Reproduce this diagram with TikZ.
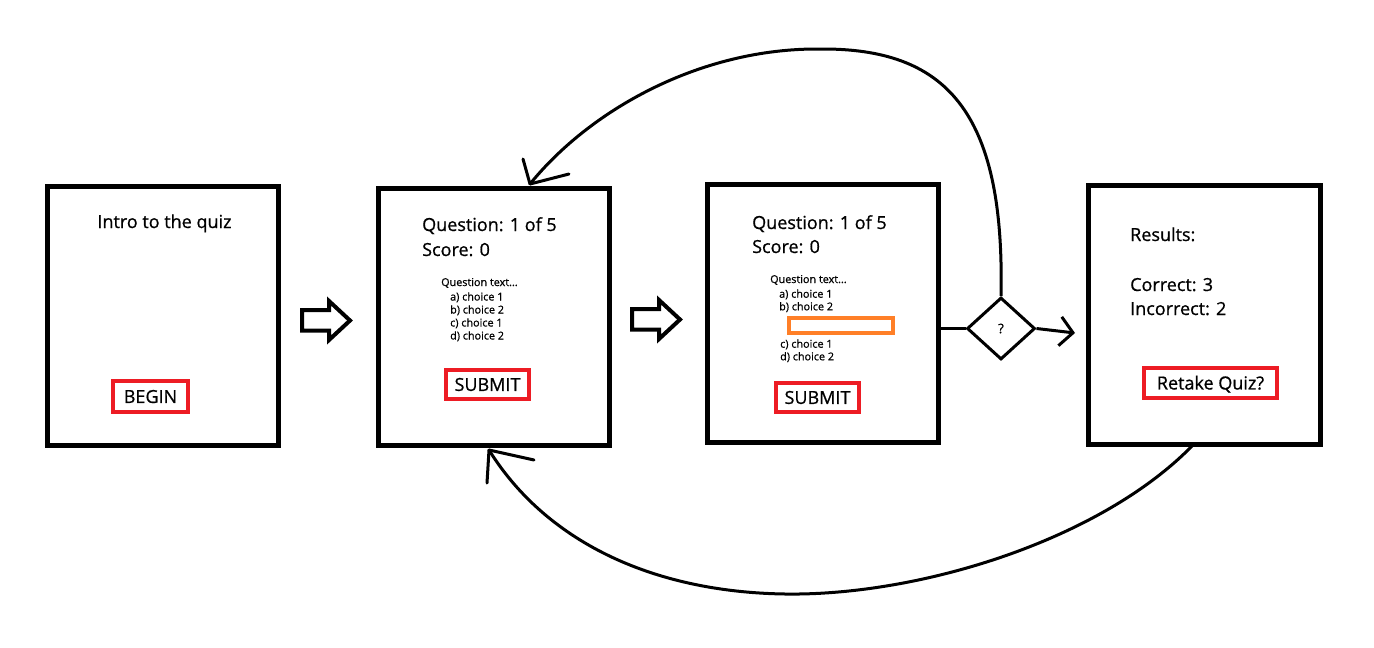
\documentclass[tikz,border=0pt]{standalone}
\usepackage{fontspec}
\setmainfont{Open Sans}[UprightFeatures={FakeBold=0.8}]
\usetikzlibrary{shapes.geometric,arrows.meta,calc}
\definecolor{paintred}{HTML}{ED1C24}
\definecolor{paintorange}{HTML}{FF7F27}
\tikzset{
  screen/.style={draw=black,line width=5pt,minimum width=#1,inner sep=0pt},
  redbtn/.style={draw=paintred,line width=4.5pt,inner sep=0pt,font=\fontsize{18}{20}\selectfont,text height=12.9pt,text depth=0pt},
  bigtxt/.style={anchor=base west,inner sep=0pt,font=\fontsize{18}{20}\selectfont},
  smalltxt/.style={anchor=base west,inner sep=0pt,font=\fontsize{10.8}{12}\selectfont},
  fatarrow/.style={draw=black,line width=4pt,line join=miter},
  curve/.style={draw=black,line width=3pt},
  barb/.style={draw=black,line width=3pt,line cap=round},
  decision/.style={draw=black,diamond,line width=3pt,inner sep=0pt,minimum width=68pt,minimum height=62pt,font=\fontsize{13}{15}\selectfont},
}
\begin{document}
\begin{tikzpicture}[x=1pt,y=-1pt]
\useasboundingbox (0,0) rectangle (1374,648);
% screens
\node[screen=231pt,minimum height=259pt] (b1) at (162.5,315.5) {};
\node[screen=231pt,minimum height=257pt] (b2) at (493.5,316.5) {};
\node[screen=231pt,minimum height=258pt] (b3) at (822.5,313) {};
\node[screen=232pt,minimum height=259pt] (b4) at (1204,314.5) {};
% screen 1
\node[anchor=base,inner sep=0pt,font=\fontsize{18}{20}\selectfont] (intro) at (164.5,228) {Intro to the quiz};
\node[redbtn,minimum width=75pt,minimum height=31pt] (begin) at (150.5,396.5) {BEGIN};
% screen 2
\node[bigtxt] (q2) at (422,231) {Question: 1 of 5};
\node[bigtxt] (s2) at (422,256) {Score: 0};
\node[smalltxt] (qt2) at (441,286) {Question text...};
\node[smalltxt] (a2) at (450,300.5) {a) choice 1};
\node[smalltxt] (bb2) at (450,313.5) {b) choice 2};
\node[smalltxt] (c2) at (450,326.5) {c) choice 1};
\node[smalltxt] (d2) at (450,339.5) {d) choice 2};
\node[redbtn,minimum width=83pt,minimum height=29pt] (sub2) at (487.5,384.5) {SUBMIT};
% screen 3
\node[bigtxt] (q3) at (752,229) {Question: 1 of 5};
\node[bigtxt] (s3) at (752,253) {Score: 0};
\node[smalltxt] (qt3) at (770,283) {Question text...};
\node[smalltxt] (a3) at (779,297.7) {a) choice 1};
\node[smalltxt] (bb3) at (779,310.3) {b) choice 2};
\node[draw=paintorange,line width=3.5pt,minimum width=104pt,minimum height=15pt,inner sep=0pt] (blank) at (841,325.5) {};
\node[smalltxt] (c3) at (780,347.7) {c) choice 1};
\node[smalltxt] (d3) at (780,360.3) {d) choice 2};
\node[redbtn,minimum width=83pt,minimum height=29pt] (sub3) at (817.5,397.5) {SUBMIT};
% screen 4
\node[bigtxt] (res) at (1130,241) {Results:};
\node[bigtxt] (cor) at (1130,291) {Correct: 3};
\node[bigtxt] (inc) at (1130,315) {Incorrect: 2};
\node[redbtn,minimum width=133pt,minimum height=30pt] (retake) at (1210.5,383) {Retake Quiz?};
% fat arrows
\foreach \dx/\dy in {0/0,330/-1}{
  \draw[fatarrow,shift={(\dx,\dy)}] (302,310) -- (329,310) -- (329,301) -- (350,320.5) -- (329,340) -- (329,330.5) -- (302,330.5) -- cycle;
}
% decision
\node[decision] (dec) at (1001,328.5) {?};
\draw[curve] (dec.west) -- (dec.west -| b3.east);
\coordinate (resin) at (1075,333);
\draw[curve,-{Straight Barb[length=13pt,width=29pt]}] (dec.east) -- (resin);
% loop back from decision to screen 2
\coordinate (topin) at (530,184);
\draw[curve] (dec.north) .. controls (1005,110) and (945,48) .. (820,49)
  .. controls (700,48) and (590,110) .. (topin);
\draw[barb] (topin) -- ++(-7,-25);
\draw[barb] (topin) -- ++(39,-10);
% retake back to screen 2
\coordinate (retout) at (1192,446);
\coordinate (botin) at (489,450);
\draw[curve] (retout) .. controls (1100,540) and (920,596) .. (785,594)
  .. controls (650,592) and (545,540) .. (botin);
\draw[barb] (botin) -- ++(-2,33);
\draw[barb] (botin) -- ++(45,10);
\end{tikzpicture}
\end{document}
